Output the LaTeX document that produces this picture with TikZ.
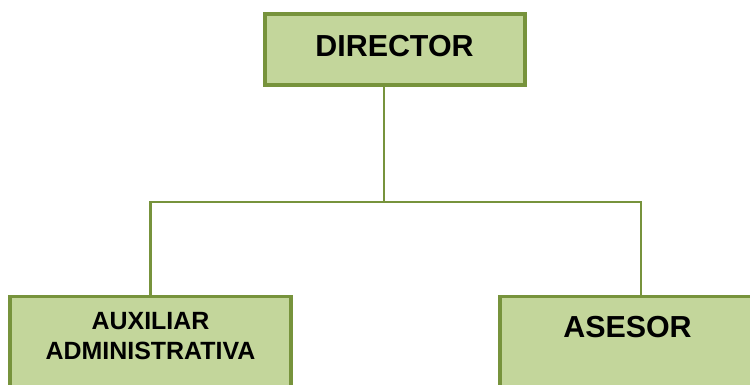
\documentclass[tikz,border=0pt]{standalone}
\usepackage{fontspec}
\setmainfont{Liberation Sans}
\usetikzlibrary{positioning}
\definecolor[named]{OrgFill}{HTML}{C3D69B}
\definecolor[named]{OrgLine}{HTML}{77933C}
\newcommand{\cargofont}{\fontsize{22.8}{27}\selectfont\bfseries}
\newcommand{\subfont}{\fontsize{18.7}{22.5}\selectfont\bfseries}
\tikzset{
  cargo/.style={draw=OrgLine,fill=OrgFill,line width=2.5pt,rectangle,inner sep=0pt},
  rotulo/.style={inner sep=0pt,align=center},
  enlace/.style={draw=OrgLine,line width=2pt}
}

\begin{document}
\begin{tikzpicture}[x=0.75pt,y=-0.75pt]
      \useasboundingbox (0,0) rectangle (750,385);
      \clip (0,0) rectangle (750,385);

      % Boxes {{{
      \node[cargo,minimum width=195pt,minimum height=53.25pt] (dir) at (395,49.5) {};
      \node[cargo,minimum width=210.75pt,minimum height=82.5pt,anchor=north] (aux) at (150.5,295) {};
      \node[cargo,minimum width=211.5pt,minimum height=82.5pt,anchor=north] (ase) at (641,295) {};
      % }}}

      % Texts {{{
      \node[rotulo,anchor=base,font=\cargofont] (dirtxt) at (394.5,57) {DIRECTOR};
      \node[rotulo,anchor=north,font=\subfont] (auxtxt) at (150.5,312) {AUXILIAR\\ADMINISTRATIVA};
      \node[rotulo,anchor=base,font=\cargofont] (asetxt) at (627.5,337) {ASESOR};
      % }}}

      % Connectors {{{
      \coordinate (bus) at (384,202);
      \path[enlace] (dir.south -| bus) -- (bus);
      \path[enlace] (aux.north) |- (bus) -| (ase.north);
      % }}}
\end{tikzpicture}
\end{document}
